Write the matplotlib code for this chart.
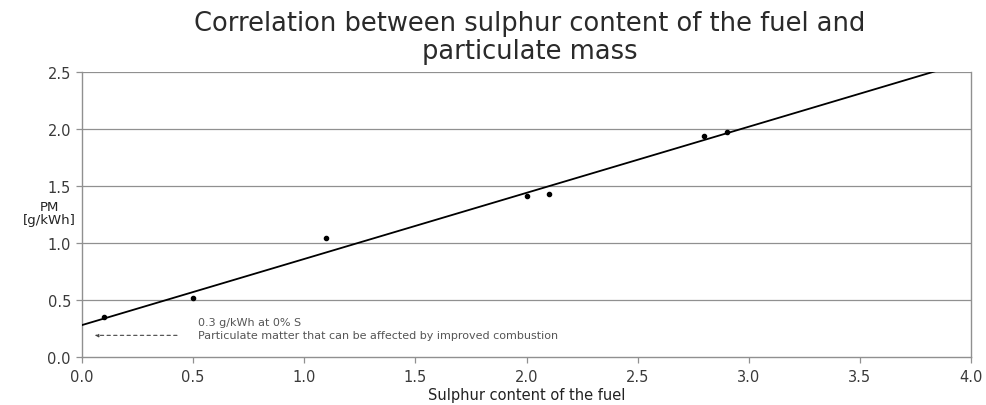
import matplotlib
matplotlib.use("Agg")
import matplotlib.pyplot as plt
import numpy as np

plt.rcParams['font.family'] = ['DejaVu Sans']

# Data
sulphur = [0.1, 0.5, 1.1, 2.0, 2.1, 2.8, 2.9]
pm = [0.35, 0.52, 1.04, 1.41, 1.43, 1.94, 1.97]
trend_intercept = 0.28
trend_slope = 0.58
xticks = [0.0, 0.5, 1.0, 1.5, 2.0, 2.5, 3.0, 3.5, 4.0]
yticks = [0.0, 0.5, 1.0, 1.5, 2.0, 2.5]

fig = plt.figure(figsize=(9.87, 4.06), dpi=100)
ax = fig.add_axes([82/987, 1-358/406, (971-82)/987, (358-73)/406])

ax.set_xlim(0, 4)
ax.set_ylim(0, 2.5)

gray = '#909090'
for y in yticks[1:]:
    ax.axhline(y, color=gray, lw=0.9, zorder=1)

xl = np.array([0.0, 4.0])
ax.plot(xl, trend_intercept + trend_slope * xl, color='black', lw=1.3, zorder=3)
ax.plot(sulphur, pm, 'o', color='black', ms=3, zorder=4)

ax.annotate('', xy=(0.045, 0.19), xytext=(0.44, 0.19),
            arrowprops=dict(arrowstyle='-|>', linestyle=(0, (3, 3)), color='#444444',
                            lw=0.8, mutation_scale=5))
ax.text(0.52, 0.31, '0.3 g/kWh at 0% S', fontsize=8, color='#555555', va='center')
ax.text(0.52, 0.19, 'Particulate matter that can be affected by improved combustion',
        fontsize=8, color='#555555', va='center')

ax.set_xticks(xticks)
ax.set_yticks(yticks)
ax.set_xticklabels([f'{v:.1f}' for v in xticks])
ax.set_yticklabels([f'{v:.1f}' for v in yticks])
ax.tick_params(axis='both', colors=gray, labelcolor='#3a3a3a', labelsize=10.5,
               length=4, width=0.9, direction='out')
ax.tick_params(axis='x', pad=5)
ax.tick_params(axis='y', pad=4)
for s in ['left', 'right', 'bottom']:
    ax.spines[s].set_color(gray)
    ax.spines[s].set_linewidth(1.0)
ax.spines['top'].set_visible(False)

ax.set_xlabel('Sulphur content of the fuel', fontsize=10.5, color='#222222', labelpad=2)
fig.text(49/987, 1-214/406, 'PM\n[g/kWh]', fontsize=9.5, color='#222222',
         ha='center', va='center', linespacing=1.05)

fig.text(530/987, 1-38/406, 'Correlation between sulphur content of the fuel and\nparticulate mass',
         fontsize=18.5, color='#2a2a2a', ha='center', va='center', linespacing=1.08)

fig.savefig('out.png', dpi=100, facecolor='white')
